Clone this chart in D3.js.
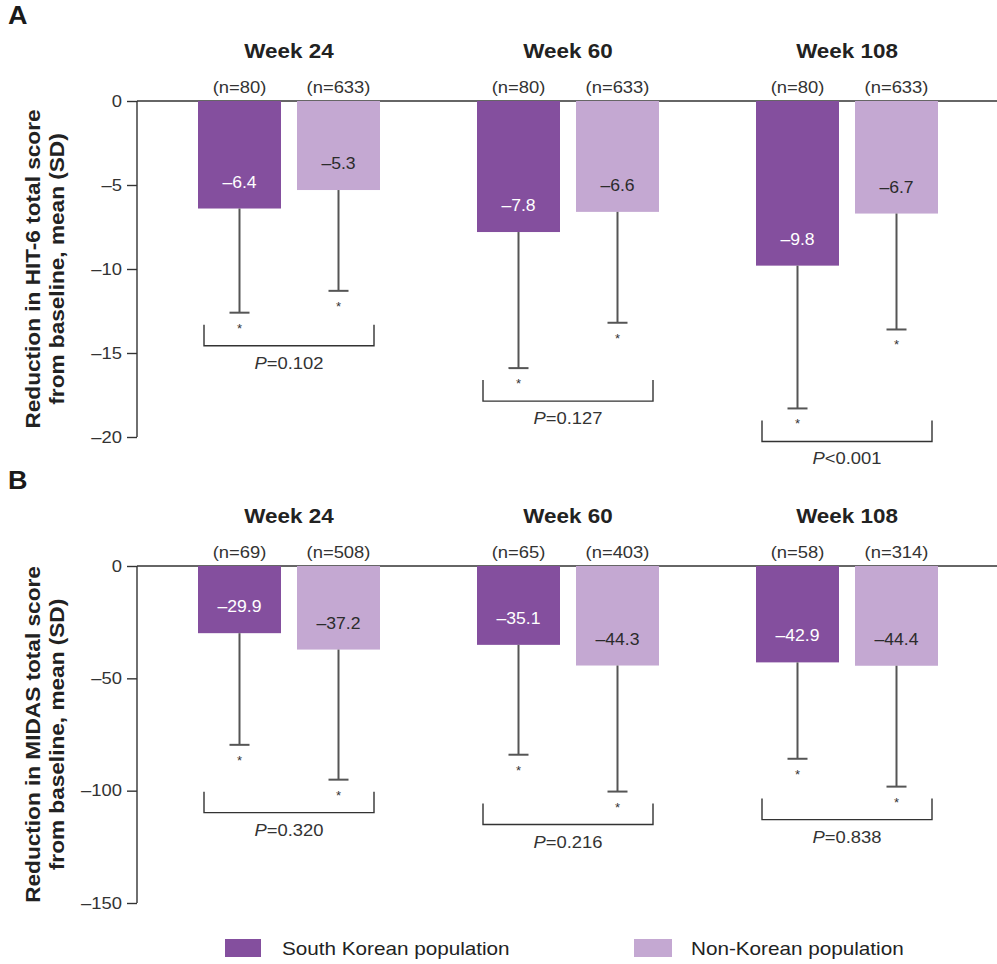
<!DOCTYPE html>
<html>
<head>
<meta charset="utf-8">
<script src="https://cdn.jsdelivr.net/npm/d3@7"></script>
<style>
  html, body { margin: 0; padding: 0; background: #fff; }
  svg { display: block; font-family: "Liberation Sans", Arial, sans-serif; }
</style>
</head>
<body>
<svg id="chart" width="997" height="964"></svg>
<script>
// Time points and population groups
const weeks = ["Week 24", "Week 60", "Week 108"];
const groups = ["South Korean population", "Non-Korean population"];

// Panel A: HIT-6 total score change from baseline
const hitMean = [[-6.4, -5.3], [-7.8, -6.6], [-9.8, -6.7]];
const hitSD   = [[6.2, 6.0], [8.1, 6.6], [8.5, 6.9]];
const hitN    = [[80, 633], [80, 633], [80, 633]];
const hitP    = ["P=0.102", "P=0.127", "P<0.001"];
const hitTicks = [0, -5, -10, -15, -20];

// Panel B: MIDAS total score change from baseline
const midasMean = [[-29.9, -37.2], [-35.1, -44.3], [-42.9, -44.4]];
const midasSD   = [[49.7, 57.9], [48.9, 56.1], [42.9, 53.8]];
const midasN    = [[69, 508], [65, 403], [58, 314]];
const midasP    = ["P=0.320", "P=0.216", "P=0.838"];
const midasTicks = [0, -50, -100, -150];

const colors = ["#844f9e", "#c4a8d2"];
const labelColors = ["#ffffff", "#2b2b2b"];
const textColor = "#222";
const barStroke = "#555";
const SX = 1.15; // horizontal widening applied to the typeface
const fmt = v => (v < 0 ? "\u2013" : "") + Math.abs(v).toString();
const fmtVal = v => (v < 0 ? "\u2013" : "") + Math.abs(v).toFixed(1);

const svg = d3.select("#chart");

// place a widened text label anchored at (x, y)
function label(parent, x, y, txt, opts = {}) {
  const rot = opts.rotate ? ` rotate(${opts.rotate})` : "";
  const t = parent.append("text")
    .attr("transform", `translate(${x},${y})${rot} scale(${opts.sx || SX},1)`)
    .attr("text-anchor", opts.anchor || "middle")
    .attr("font-size", opts.size || 16)
    .attr("font-weight", opts.bold ? "bold" : null)
    .attr("fill", opts.fill || textColor);
  if (txt !== null) t.text(txt);
  return t;
}

const x0 = d3.scaleBand().domain(weeks).range([149.5, 986.5]).paddingInner(0).paddingOuter(0);
const x1 = d3.scaleBand().domain(groups).range([-91, 91]).paddingInner(0.1616).paddingOuter(0);

function panel(opts) {
  const { letter, top, bottom, domainMin, ticks, means, sds, ns, ps, ylabel } = opts;
  const axisX = 137;
  const y = d3.scaleLinear().domain([0, domainMin]).range([top, bottom]);
  const g = svg.append("g");

  // panel letter
  label(g, 8, top - 77, letter, { anchor: "start", size: 25, bold: true, fill: "#1a1a1a", sx: 1.08 });

  // y axis
  const axis = d3.axisLeft(y).tickValues(ticks).tickFormat(fmt).tickSize(10).tickPadding(5);
  const ag = g.append("g").attr("transform", `translate(${axisX},0)`).call(axis);
  ag.select(".domain").attr("stroke", "#333").attr("stroke-width", 1.4).attr("d", `M0,${top}V${bottom}`);
  ag.selectAll(".tick line").attr("stroke", "#333").attr("stroke-width", 1.4);
  ag.selectAll(".tick text")
    .attr("font-size", 16).attr("fill", "#333")
    .attr("font-family", "Liberation Sans, Arial, sans-serif")
    .attr("x", -15 / SX)
    .attr("transform", `scale(${SX},1)`);

  // zero baseline running across the panel
  g.append("line").attr("x1", axisX).attr("x2", 997).attr("y1", y(0)).attr("y2", y(0))
    .attr("stroke", "#333").attr("stroke-width", 1.4);

  // y label
  const mid = (top + bottom) / 2;
  const yl = label(g, 40, mid, null, { rotate: -90, size: 19.5, bold: true, sx: 1.16 });
  yl.append("tspan").attr("x", 0).attr("dy", 0).text(ylabel[0]);
  yl.append("tspan").attr("x", 0).attr("dy", 24).text(ylabel[1]);

  weeks.forEach((w, i) => {
    const cx = x0(w) + x0.bandwidth() / 2;
    const wg = g.append("g").attr("transform", `translate(${cx},0)`);

    label(wg, 0, top - 43, w, { size: 19.5, bold: true });

    let lowest = 0;
    groups.forEach((grp, j) => {
      const bx = x1(grp);
      const bw = x1.bandwidth();
      const m = means[i][j], s = sds[i][j];
      const ccx = bx + bw / 2;

      label(wg, ccx, top - 8, `(n=${ns[i][j]})`, { size: 16, fill: "#333" });

      wg.append("rect").attr("x", bx).attr("y", y(0)).attr("width", bw)
        .attr("height", y(m) - y(0)).attr("fill", colors[j]);

      // SD whisker
      wg.append("line").attr("x1", ccx).attr("x2", ccx).attr("y1", y(m)).attr("y2", y(m - s))
        .attr("stroke", barStroke).attr("stroke-width", 2);
      wg.append("line").attr("x1", ccx - 10).attr("x2", ccx + 10).attr("y1", y(m - s)).attr("y2", y(m - s))
        .attr("stroke", barStroke).attr("stroke-width", 2);
      label(wg, ccx, y(m - s) + 20, "*", { size: 13, fill: "#333", sx: 1 });

      label(wg, ccx, y(m) - 21, fmtVal(m), { size: 16, fill: labelColors[j], sx: 1.1 });

      lowest = Math.max(lowest, y(m - s));
    });

    // comparison bracket
    const bb = lowest + 33;
    const bl = x1(groups[0]) + 6, br = x1(groups[1]) + x1.bandwidth() - 6;
    wg.append("path").attr("d", `M${bl},${bb - 21}V${bb}H${br}V${bb - 21}`)
      .attr("fill", "none").attr("stroke", "#333").attr("stroke-width", 1.4);
    const pt = label(wg, 0, bb + 23, null, { size: 16, fill: "#333" });
    pt.append("tspan").attr("font-style", "italic").text(ps[i].charAt(0));
    pt.append("tspan").text(ps[i].slice(1));
  });
}

panel({ letter: "A", top: 101, bottom: 437, domainMin: -20, ticks: hitTicks,
  means: hitMean, sds: hitSD, ns: hitN, ps: hitP,
  ylabel: ["Reduction in HIT-6 total score", "from baseline, mean (SD)"] });

panel({ letter: "B", top: 566, bottom: 903, domainMin: -150, ticks: midasTicks,
  means: midasMean, sds: midasSD, ns: midasN, ps: midasP,
  ylabel: ["Reduction in MIDAS total score", "from baseline, mean (SD)"] });

// legend
const legendX = [225, 634];
const legendW = [36, 38];
groups.forEach((grp, j) => {
  svg.append("rect").attr("x", legendX[j]).attr("y", 939).attr("width", legendW[j]).attr("height", 18)
    .attr("fill", colors[j]);
  label(svg, legendX[j] + 57, 955, grp, { anchor: "start", size: 18 });
});
</script>
</body>
</html>
